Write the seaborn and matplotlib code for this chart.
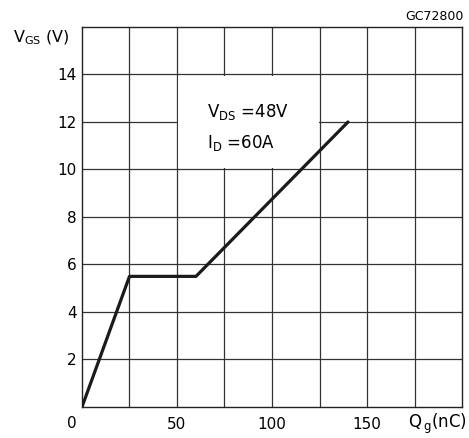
import matplotlib
matplotlib.use('Agg')
import matplotlib.pyplot as plt
from matplotlib.patches import Rectangle
import numpy as np
import pandas as pd
import seaborn as sns

# gate charge curve
qg_nc = [0, 25, 60, 140]
vgs_v = [0, 5.5, 5.5, 12]

x_ticks = [0, 50, 100, 150]
y_ticks = [2, 4, 6, 8, 10, 12, 14]

sns.set_style('white')
plt.rcParams['font.family'] = ['DejaVu Sans']
plt.rcParams['mathtext.default'] = 'regular'
plt.rcParams['text.color'] = 'black'

df = pd.DataFrame({'Qg': qg_nc, 'Vgs': vgs_v})

fig = plt.figure(figsize=(4.69, 4.38), dpi=100)
ax = fig.add_axes([0.1748, 0.0708, 0.9851 - 0.1748, 0.9384 - 0.0708])

# grid every 25 nC / 2 V
for gx in np.arange(25, 200, 25):
    ax.axvline(gx, color='#333333', lw=0.9, zorder=1)
for gy in np.arange(2, 16, 2):
    ax.axhline(gy, color='#333333', lw=0.9, zorder=1)

# white box behind the conditions text
ax.add_patch(Rectangle((50.6, 10.08), 74.0, 3.84, facecolor='white',
                       edgecolor='none', zorder=2))

sns.lineplot(data=df, x='Qg', y='Vgs', ax=ax, color='#1a1a1a', lw=2.3,
             estimator=None, sort=False, zorder=3)

ax.set_xlim(0, 200)
ax.set_ylim(0, 16)
ax.set_xticks(x_ticks)
ax.set_xticklabels([''] + [str(t) for t in x_ticks[1:]])
ax.set_yticks(y_ticks)
ax.set_yticklabels([str(t) for t in y_ticks])
ax.tick_params(axis='both', length=0, labelsize=11, colors='black')
ax.tick_params(axis='x', pad=7)
ax.tick_params(axis='y', pad=4)
ax.set_xlabel('')
ax.set_ylabel('')
for sp in ax.spines.values():
    sp.set_visible(True)
    sp.set_color('#222222')
    sp.set_linewidth(1.0)

# separate "0" at the origin
fig.text(72 / 469, 1 - 424 / 438, '0', ha='center', va='center', fontsize=11)

ax.text(66, 12.4, 'V$_{DS}$ =48V', fontsize=12, ha='left', va='center', zorder=4)
ax.text(66, 11.1, 'I$_{D}$ =60A', fontsize=12, ha='left', va='center', zorder=4)

fig.text(13 / 469, 1 - 38 / 438, 'V$_{GS}$ (V)', ha='left', va='center', fontsize=11.5)
fig.text(467 / 469, 1 - 424 / 438, 'Q$_{\\,g}$(nC)', ha='right', va='center', fontsize=12)
fig.text(464 / 469, 1 - 16 / 438, 'GC72800', ha='right', va='center', fontsize=9)

fig.savefig('out.png', dpi=100)
